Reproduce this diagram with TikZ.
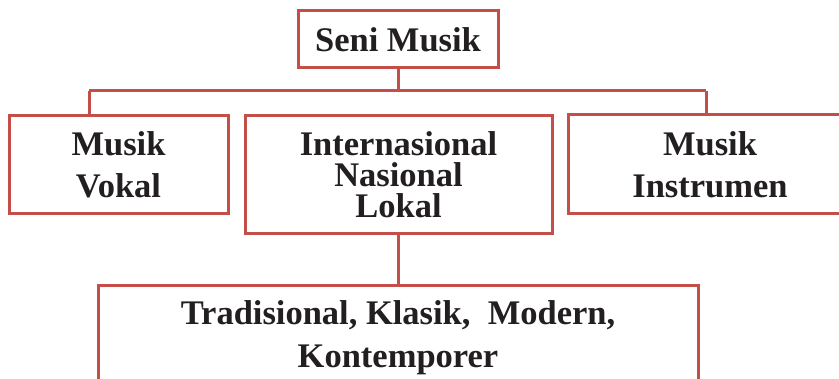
\documentclass[tikz,border=0pt]{standalone}
\usepackage{fontspec}
\setmainfont{Liberation Serif}
\definecolor{boxred}{RGB}{196,78,72}
\definecolor{txt}{RGB}{35,31,32}
\tikzset{
  box/.style={draw=boxred, line width=3pt, rectangle, inner sep=0pt, align=center,
    text=txt, font=\fontsize{34.5}{42}\selectfont\bfseries},
  link/.style={draw=boxred, line width=3pt}
}
\begin{document}
\begin{tikzpicture}[x=1pt,y=-1pt]
\useasboundingbox (0,0) rectangle (839,379);
\clip (0,0) rectangle (839,379);
\fill[white] (0,0) rectangle (839,379);
\node[box, minimum width=200pt, minimum height=57pt] (top) at (398,39.5) {Seni Musik};
\node[box, minimum width=219pt, minimum height=98pt] (vokal) at (118.5,165) {Musik\\Vokal};
\node[box, minimum width=307pt, minimum height=118pt, font=\fontsize{34.5}{31}\selectfont\bfseries] (mid) at (398.5,175) {Internasional\\Nasional\\Lokal};
\node[box, minimum width=284pt, minimum height=99pt] (instr) at (710,164.5) {Musik\\Instrumen};
\node[box, minimum width=600pt, minimum height=103pt, font=\fontsize{34.5}{43}\selectfont\bfseries] (bottom) at (398,337.4) {Tradisional, Klasik,\ \ Modern,\\Kontemporer};
\coordinate (bl) at (89,91);
\coordinate (br) at (706,91);
\draw[link] (top.south) -- (top.south |- bl);
\draw[link] (bl) -- (br);
\draw[link] (bl) -- (bl |- vokal.north);
\draw[link] (br) -- (br |- instr.north);
\draw[link] (mid.south) -- (mid.south |- bottom.north);
\end{tikzpicture}
\end{document}
